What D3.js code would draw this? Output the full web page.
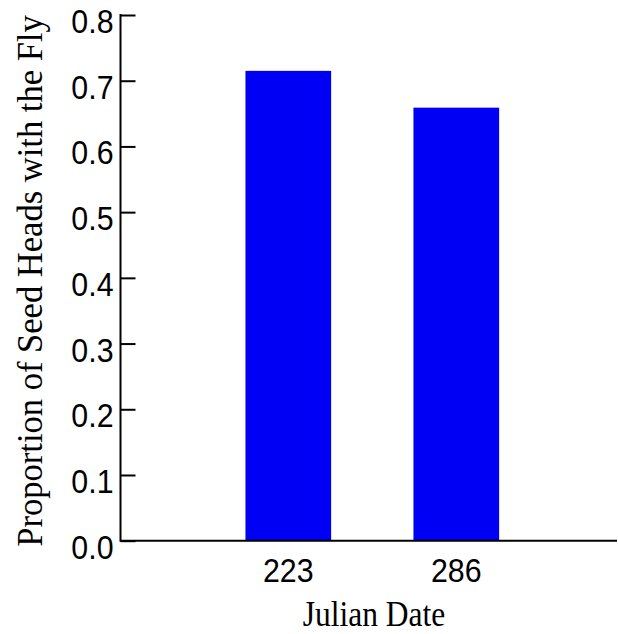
<!DOCTYPE html>
<html>
<head>
<meta charset="utf-8">
<script src="https://cdn.jsdelivr.net/npm/d3@7"></script>
<style>
  html, body { margin: 0; padding: 0; background: #fff; }
  svg { display: block; }
</style>
</head>
<body>
<svg id="chart" width="618" height="634"></svg>
<script>
const categories = ["223", "286"];
const values = [0.715, 0.659];
const yTicks = [0.0, 0.1, 0.2, 0.3, 0.4, 0.5, 0.6, 0.7, 0.8];
const xTitle = "Julian Date";
const yTitle = "Proportion of Seed Heads with the Fly";

const svg = d3.select("#chart");
const axisLeft = 120.5, axisRight = 617, yTop = 15, yBottom = 540.7;

const y = d3.scaleLinear().domain([0, 0.8]).range([yBottom, yTop]);
const x = d3.scaleBand().domain(categories)
  .range([204.3, 540.3]).paddingInner(0.49).paddingOuter(0.245);

// bars
svg.append("g").selectAll("rect").data(values).join("rect")
  .attr("x", (d, i) => x(categories[i]))
  .attr("width", x.bandwidth())
  .attr("y", d => y(d))
  .attr("height", d => y(0) - y(d))
  .attr("fill", "#0000f5");

const sx = 0.92;
// y axis
const yAxis = d3.axisRight(y).tickValues(yTicks).tickSize(15).tickFormat(d3.format(".1f"));
const gy = svg.append("g").attr("transform", `translate(${axisLeft},0)`).call(yAxis);
gy.select(".domain").remove();
gy.selectAll(".tick line").attr("stroke", "#000").attr("stroke-width", 2);
gy.selectAll(".tick text")
  .attr("x", -7 / sx).attr("text-anchor", "end").attr("dy", 17.5)
  .attr("transform", `scale(${sx},1)`)
  .attr("font-family", "Liberation Sans, Arial, sans-serif")
  .attr("font-size", 33).attr("fill", "#000");
svg.append("line").attr("x1", axisLeft).attr("x2", axisLeft)
  .attr("y1", yTop - 1).attr("y2", yBottom + 1)
  .attr("stroke", "#000").attr("stroke-width", 2);

// x axis
svg.append("line").attr("x1", axisLeft).attr("x2", axisRight)
  .attr("y1", yBottom).attr("y2", yBottom)
  .attr("stroke", "#000").attr("stroke-width", 2);
const xAxis = d3.axisBottom(x).tickSize(0).tickPadding(0);
const gx = svg.append("g").attr("transform", `translate(0,${yBottom})`).call(xAxis);
gx.select(".domain").remove();
gx.selectAll(".tick text")
  .attr("y", 41).attr("dy", 0)
  .attr("transform", `scale(${sx},1)`)
  .attr("font-family", "Liberation Sans, Arial, sans-serif")
  .attr("font-size", 33).attr("fill", "#000");

// titles
svg.append("text").attr("transform", "translate(374,626) scale(0.9,1)")
  .attr("text-anchor", "middle")
  .attr("font-family", "Liberation Serif, Times New Roman, serif")
  .attr("font-size", 35).attr("fill", "#000").text(xTitle);
svg.append("text")
  .attr("transform", "translate(42,281) rotate(-90) scale(0.96,1)")
  .attr("text-anchor", "middle")
  .attr("font-family", "Liberation Serif, Times New Roman, serif")
  .attr("font-size", 36).attr("fill", "#000").text(yTitle);
</script>
</body>
</html>
